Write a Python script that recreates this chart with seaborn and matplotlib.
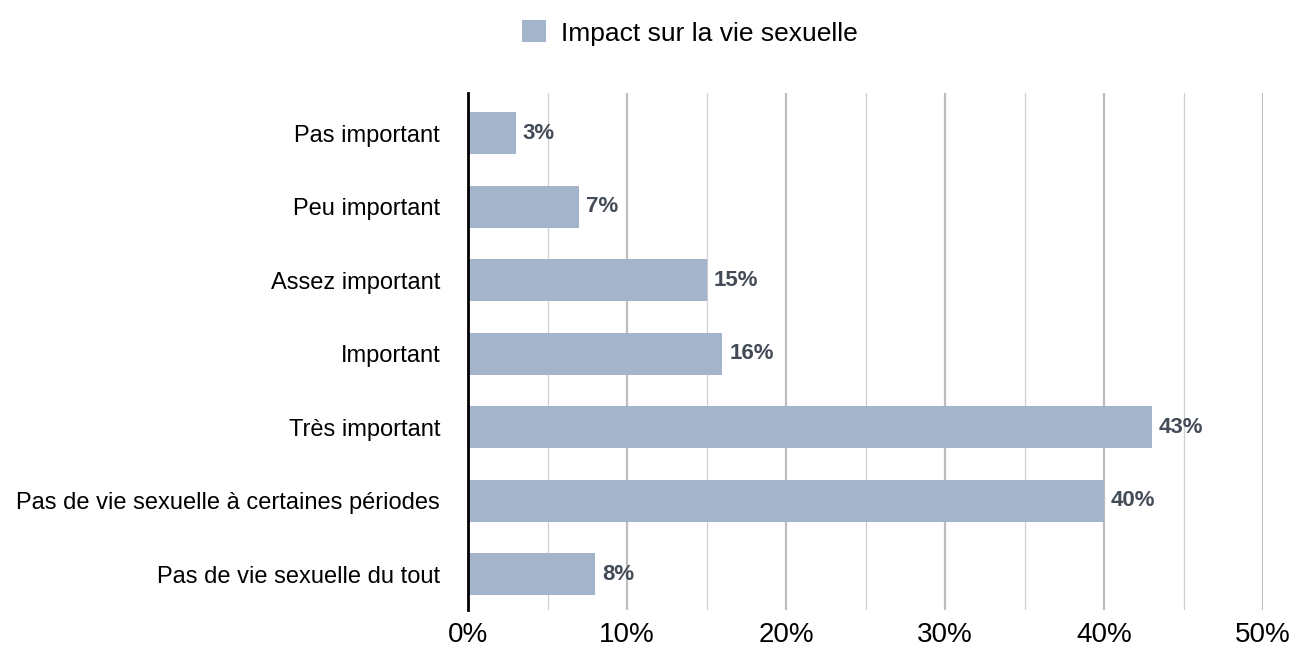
import matplotlib
matplotlib.use("Agg")
import matplotlib.pyplot as plt
from matplotlib.ticker import MultipleLocator, FuncFormatter
from matplotlib.patches import Patch
import seaborn as sns
import pandas as pd

categories = [
    "Pas important",
    "Peu important",
    "Assez important",
    "Important",
    "Très important",
    "Pas de vie sexuelle à certaines périodes",
    "Pas de vie sexuelle du tout",
]
values = [3, 7, 15, 16, 43, 40, 8]
series_name = "Impact sur la vie sexuelle"

df = pd.DataFrame({"cat": categories, "val": values})

sns.set_theme(style="white")
plt.rcParams["font.family"] = ["Liberation Sans", "DejaVu Sans"]

fig = plt.figure(figsize=(12.93, 6.48), dpi=100)
ax = fig.add_axes([468 / 1293, 1 - 610 / 648, (1263 - 468) / 1293, (610 - 93) / 648])

bar_color = "#A3B4CB"
sns.barplot(data=df, x="val", y="cat", color=bar_color, width=0.57, ax=ax,
            saturation=1, edgecolor="none", zorder=3)

ax.set_xlim(0, 50)
ax.set_ylim(6.49, -0.55)
ax.xaxis.set_major_locator(MultipleLocator(10))
ax.xaxis.set_minor_locator(MultipleLocator(5))
ax.xaxis.set_major_formatter(FuncFormatter(lambda v, p: f"{int(v)}%"))
ax.grid(axis="x", which="major", color="#BDBDBD", linewidth=1.6, zorder=0)
ax.grid(axis="x", which="minor", color="#CFCFCF", linewidth=0.9, zorder=0)
ax.grid(axis="y", visible=False)
ax.set_axisbelow(True)
for s in ["top", "right", "bottom"]:
    ax.spines[s].set_visible(False)
ax.spines["left"].set_color("black")
ax.spines["left"].set_linewidth(2.0)
ax.spines["left"].set_zorder(5)
ax.set_xlabel("")
ax.set_ylabel("")
ax.tick_params(axis="x", which="both", length=0, labelsize=20, labelcolor="black", pad=9)
ax.tick_params(axis="y", length=0, labelsize=17, labelcolor="black", pad=20)

for i, v in enumerate(values):
    ax.annotate(f"{v}%", xy=(v, i), xytext=(5, 0), textcoords="offset points",
                va="center", ha="left", fontsize=16, fontweight="bold", color="#434B57",
                zorder=6)

handle = Patch(facecolor=bar_color, edgecolor="none")
leg = fig.legend([handle], [series_name], loc="center", bbox_to_anchor=(690 / 1293, 1 - 33 / 648),
                 frameon=False, fontsize=19, handlelength=0.9, handleheight=0.9, handletextpad=0.6)
for t in leg.get_texts():
    t.set_color("black")

fig.savefig("out.png", dpi=100)
